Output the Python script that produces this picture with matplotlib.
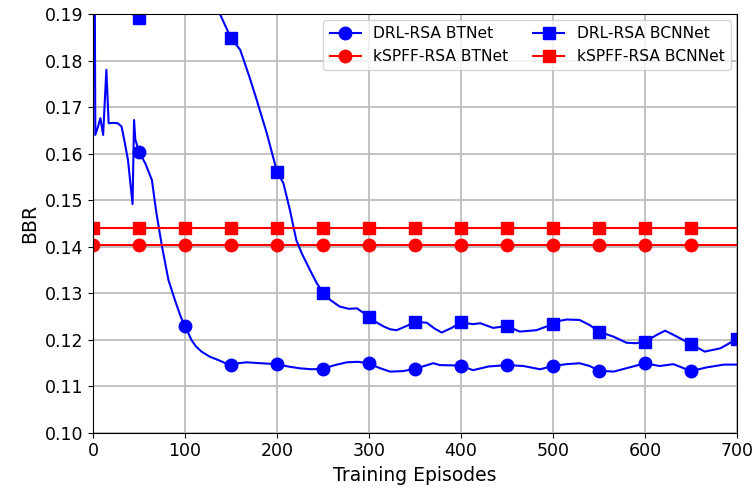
import matplotlib
matplotlib.use("Agg")
import matplotlib.pyplot as plt

# DRL-RSA on BTNet (sampled along the smoothed curve)
bt_x = [0, 2.5, 5, 8, 11, 14.5, 17, 22, 27, 31, 34, 38, 43, 44.6, 46, 50,
        57, 64, 69, 75, 82, 89, 95, 100, 104, 107, 112, 118, 127, 136, 143,
        150, 158, 167, 182, 200, 212, 225, 238, 250, 263, 276, 288, 300,
        311, 323, 337, 350, 370, 377, 400, 413, 430, 450, 468,
        486, 500, 515, 529, 540, 550, 566, 589, 600, 616, 631, 640, 650,
        667, 686, 700]
bt_y = [0.30, 0.164, 0.1655, 0.1676, 0.164, 0.178, 0.1665, 0.1666, 0.1665,
        0.1658, 0.1629, 0.1586, 0.1491, 0.1672, 0.163, 0.1604,
        0.1578, 0.1543, 0.1471, 0.140, 0.1328, 0.1285, 0.1251, 0.1228,
        0.1212, 0.1199, 0.1185, 0.1174, 0.1163, 0.1156, 0.1150,
        0.1145, 0.1149, 0.1151, 0.1149, 0.1147, 0.1142, 0.1138, 0.1136,
        0.1137, 0.1145, 0.1151, 0.1152, 0.1149,
        0.1139, 0.1131, 0.1132, 0.1137, 0.1149, 0.1145,
        0.1144, 0.1134, 0.1142, 0.1145, 0.1143,
        0.1136, 0.1143, 0.1147, 0.1149, 0.1143, 0.1133, 0.1131, 0.1143,
        0.1149, 0.1143, 0.1147, 0.1140, 0.1132, 0.1140, 0.1146, 0.1146]

# DRL-RSA on BCNNet
bc_x = [0, 25, 38, 44, 50, 56, 65, 100, 130, 138, 150, 160, 170, 178, 189,
        200, 207, 214, 221, 227, 236, 243, 250, 258, 268, 278, 287, 300,
        308, 316, 323, 330, 342, 350, 363, 371, 379, 390, 400, 413, 421,
        435, 450, 464, 482, 500, 507, 515, 529, 540, 550, 566, 580, 590,
        600, 613, 622, 635, 650, 665, 682, 700]
bc_y = [0.30, 0.22, 0.192, 0.1898, 0.1892, 0.1905, 0.195, 0.21, 0.196, 0.19,
        0.1848, 0.1823, 0.1765, 0.1715, 0.1643,
        0.1561, 0.1536, 0.1479, 0.1414, 0.1385, 0.1349, 0.1322, 0.1301,
        0.1285, 0.1271, 0.1266, 0.1267, 0.1249,
        0.1237, 0.1228, 0.1222, 0.1220, 0.1230,
        0.1238, 0.1236, 0.1224, 0.1215, 0.1225, 0.1237, 0.1233, 0.1235,
        0.1225, 0.1229, 0.1217, 0.1220, 0.1233, 0.1240, 0.1243,
        0.1242, 0.1231, 0.1217, 0.1206, 0.1193, 0.1192,
        0.1195, 0.1210, 0.1219, 0.1206, 0.1190, 0.1174, 0.1181, 0.1201]

# kSPFF-RSA baselines (constant over episodes)
ref_x = list(range(0, 701, 50))
kspff_bt = [0.1403] * len(ref_x)
kspff_bc = [0.1440] * len(ref_x)


def marks(xs, last=700):
    return [i for i, v in enumerate(xs) if v % 50 == 0 and v <= last]


fig = plt.figure(figsize=(7.55, 4.93), dpi=100)
ax = fig.add_axes([0.1232, 0.1227, 0.8528, 0.8489])

ms = 9
ax.plot(bt_x, bt_y, "-o", color="blue", lw=1.5, ms=ms,
        markevery=marks(bt_x, 650), label="DRL-RSA BTNet")
ax.plot(ref_x, kspff_bt, "-o", color="red", lw=1.5, ms=ms,
        markevery=marks(ref_x, 650), label="kSPFF-RSA BTNet")
ax.plot(bc_x, bc_y, "-s", color="blue", lw=1.5, ms=ms,
        markevery=marks(bc_x), label="DRL-RSA BCNNet")
ax.plot(ref_x, kspff_bc, "-s", color="red", lw=1.5, ms=ms,
        markevery=marks(ref_x, 650), label="kSPFF-RSA BCNNet")

ax.set_xlim(0, 700)
ax.set_ylim(0.10, 0.19)
ax.set_xticks(range(0, 701, 100))
ax.set_yticks([0.10 + 0.01 * i for i in range(10)])
ax.yaxis.set_major_formatter(matplotlib.ticker.FormatStrFormatter("%.2f"))
ax.tick_params(labelsize=12.5)
ax.grid(True, color="#bdbdbd", lw=1.3)
ax.set_axisbelow(True)
ax.set_xlabel("Training Episodes", fontsize=13.5)
ax.set_ylabel("BBR", fontsize=13.5)
ax.legend(loc="upper right", ncol=2, fontsize=11.2, columnspacing=1.6,
          borderaxespad=0.4)

fig.savefig("out.png", dpi=100)
